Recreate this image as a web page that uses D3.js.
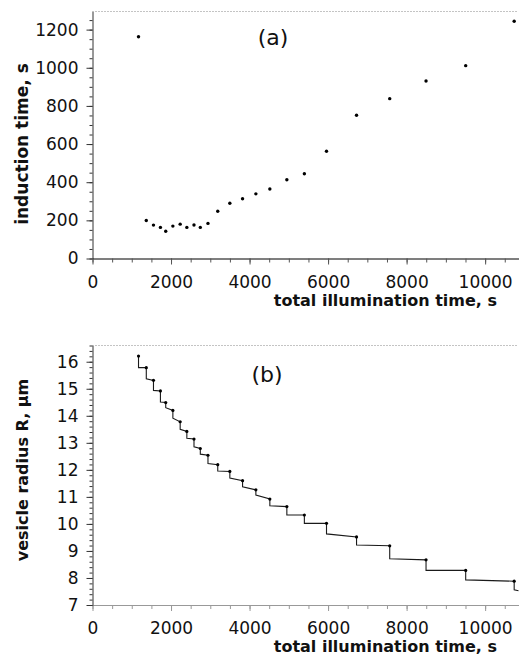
<!DOCTYPE html>
<html>
<head>
<meta charset="utf-8">
<script src="https://cdn.jsdelivr.net/npm/d3@7"></script>
<style>
  body { margin: 0; background: #fff; }
  svg { display: block; }
  text { font-family: "DejaVu Sans", Verdana, sans-serif; fill: #111; }
</style>
</head>
<body>
<script>
// total illumination time at each measurement, s (shared by both panels)
const illumTime = [1172, 1370, 1553, 1730, 1865, 2047, 2233, 2403, 2585, 2746, 2941, 3190,
  3498, 3822, 4161, 4517, 4950, 5396, 5960, 6725, 7570, 8495, 9505, 10740];
// (a) induction time, s
const inductionTime = [1163, 199, 175, 163, 143, 170, 180, 163, 176, 163, 184, 248,
  290, 313, 339, 364, 413, 444, 562, 751, 838, 931, 1011, 1244];
// (b) vesicle radius at each measurement (dots) and right after the drop, um
const radiusAtPulse = [16.21, 15.78, 15.31, 14.92, 14.49, 14.2, 13.78, 13.42, 13.14, 12.79, 12.54, 12.19,
  11.94, 11.6, 11.26, 10.92, 10.64, 10.33, 10.02, 9.52, 9.19, 8.67, 8.28, 7.88];
const radiusAfterDrop = [15.78, 15.37, 14.94, 14.51, 14.3, 13.91, 13.5, 13.17, 12.85, 12.58, 12.23, 11.96,
  11.7, 11.37, 11.07, 10.67, 10.33, 10.02, 9.63, 9.22, 8.71, 8.28, 7.93, 7.56];
const lastTime = 10850, lastRadius = 7.53;

const xTickLabels = [0, 2000, 4000, 6000, 8000, 10000];
const yTicksA = [0, 200, 400, 600, 800, 1000, 1200];
const yTicksB = [7, 8, 9, 10, 11, 12, 13, 14, 15, 16];

const svg = d3.select('body').append('svg').attr('width', 520).attr('height', 662);

const x = d3.scaleLinear().domain([0, 10850]).range([92.5, 518.5]);
const yA = d3.scaleLinear().domain([0, 1295]).range([258.5, 11.5]);
const yB = d3.scaleLinear().domain([7, 16.6]).range([605, 345.5]);

function frame(y, minorStep, majorTicks, yFmt, opts){
  const base = y.range()[0], top = y.range()[1];
  const g = svg.append('g');

  // dotted top border
  g.append('line')
    .attr('x1', x.range()[0]).attr('x2', x.range()[1])
    .attr('y1', top).attr('y2', top)
    .attr('stroke', '#888').attr('stroke-width', 1).attr('stroke-dasharray', '1,2');

  // x axis: minor ticks then labelled ones
  const gx = g.append('g').attr('transform', 'translate(0,' + base + ')');
  gx.call(d3.axisBottom(x).tickValues(d3.range(0, 10851, 500)).tickSize(4).tickSizeOuter(0).tickFormat(''));
  gx.append('g').call(d3.axisBottom(x).tickValues(xTickLabels).tickSize(6).tickSizeOuter(0).tickPadding(11).tickFormat(d3.format('d')));
  gx.selectAll('path.domain').attr('stroke', opts.xAxisColor);
  gx.selectAll('line').attr('stroke', opts.xAxisColor);
  gx.selectAll('text').style('font-size', '17px').attr('fill', '#111');

  // y axis
  const dom = y.domain();
  const gy = g.append('g').attr('transform', 'translate(' + x.range()[0] + ',0)');
  gy.call(d3.axisLeft(y).tickValues(d3.range(dom[0], dom[1] + 1e-9, minorStep)).tickSize(3).tickSizeOuter(0).tickFormat(''));
  gy.append('g').call(d3.axisLeft(y).tickValues(majorTicks).tickSize(6).tickSizeOuter(0).tickPadding(8).tickFormat(yFmt));
  gy.selectAll('path.domain').attr('stroke', '#333');
  gy.selectAll('line').attr('stroke', '#333');
  gy.selectAll('text').style('font-size', '17px').attr('fill', '#111');
  gy.selectAll('path.domain').filter((d, i) => i > 0).remove();

  // titles
  g.append('text')
    .attr('x', 497).attr('y', base + 47)
    .attr('text-anchor', 'end')
    .style('font-size', '16px').style('font-weight', 'bold')
    .text('total illumination time, s');

  g.append('text')
    .attr('transform', 'translate(22,' + opts.yLabelY + ') rotate(-90)')
    .attr('dy', '0.35em')
    .attr('text-anchor', 'middle')
    .style('font-size', opts.yLabelSize).style('font-weight', 'bold')
    .text(opts.yLabel);

  g.append('text')
    .attr('x', opts.tagX).attr('y', opts.tagY)
    .attr('text-anchor', 'middle')
    .style('font-size', '22px')
    .text(opts.tag);
  return g;
}

// ---- panel (a)
frame(yA, 50, yTicksA, d3.format('d'),
  {xAxisColor: '#555', yLabel: 'induction time, s', yLabelY: 144, yLabelSize: '17px', tag: '(a)', tagX: 273, tagY: 45});

svg.append('g').selectAll('circle')
  .data(illumTime.map((t, i) => [t, inductionTime[i]]))
  .join('circle')
  .attr('cx', d => x(d[0])).attr('cy', d => yA(d[1]))
  .attr('r', 1.7).attr('fill', '#000');

// ---- panel (b)
frame(yB, 0.2, yTicksB, d3.format('d'),
  {xAxisColor: '#999', yLabel: 'vesicle radius R, \u03bcm', yLabelY: 470, yLabelSize: '16px', tag: '(b)', tagX: 267, tagY: 382});

const stepPts = [];
illumTime.forEach((t, i) => { stepPts.push([t, radiusAtPulse[i]]); stepPts.push([t, radiusAfterDrop[i]]); });
stepPts.push([lastTime, lastRadius]);

svg.append('path')
  .datum(stepPts)
  .attr('fill', 'none').attr('stroke', '#1a1a1a').attr('stroke-width', 1.1)
  .attr('d', d3.line().x(d => x(d[0])).y(d => yB(d[1])));

svg.append('g').selectAll('circle')
  .data(illumTime.map((t, i) => [t, radiusAtPulse[i]]))
  .join('circle')
  .attr('cx', d => x(d[0])).attr('cy', d => yB(d[1]))
  .attr('r', 1.6).attr('fill', '#000');
</script>
</body>
</html>
